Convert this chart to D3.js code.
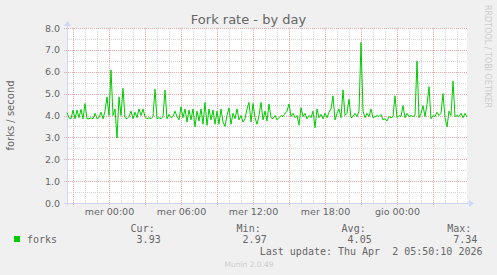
<!DOCTYPE html>
<html>
<head>
<meta charset="utf-8">
<script src="https://cdn.jsdelivr.net/npm/d3@7"></script>
<style>
  body { margin: 0; background: #f0f0f0; }
  svg { display: block; }
  text { font-family: "DejaVu Sans", sans-serif; fill: #666; }
  .mono { font-family: "DejaVu Sans Mono", monospace; }
</style>
</head>
<body>
<svg id="chart"></svg>
<script>
// series: forks per second, one sample every 10 minutes
const startTime = Date.UTC(2026, 2, 31, 20, 30);
const stepMinutes = 10;
const forks = [
  4.13, 3.90, 3.85, 4.25, 3.85, 4.25, 3.90, 4.28, 3.85, 4.55,
  3.85, 3.85, 3.90, 3.85, 4.10, 3.85, 3.90, 4.15, 3.85, 4.20,
  4.85, 4.00, 6.08, 4.00, 4.30, 2.97, 4.85, 4.00, 5.24, 3.90,
  3.85, 3.95, 4.20, 3.85, 4.15, 3.90, 4.30, 4.00, 4.30, 3.95,
  3.85, 3.90, 3.85, 3.95, 5.20, 3.85, 3.90, 3.85, 3.95, 5.16,
  3.85, 4.05, 3.90, 3.95, 4.20, 3.95, 3.80, 4.40, 3.90, 4.30,
  3.70, 4.25, 3.80, 4.30, 3.48, 4.20, 3.75, 4.30, 3.60, 4.60,
  3.55, 4.30, 3.80, 4.25, 3.60, 4.20, 3.60, 4.30, 3.70, 3.50,
  4.00, 4.35, 3.60, 4.10, 3.85, 4.30, 3.80, 4.00, 3.70, 3.85,
  4.30, 4.60, 3.70, 4.55, 3.90, 3.60, 4.00, 4.60, 3.80, 4.20,
  3.75, 4.53, 3.90, 3.85, 4.00, 3.80, 3.90, 4.00, 3.95, 4.10,
  4.20, 4.53, 3.95, 4.10, 3.90, 4.00, 3.56, 4.36, 3.95, 4.10,
  3.85, 4.00, 3.90, 4.20, 3.44, 4.30, 3.90, 4.05, 3.85, 4.10,
  3.90, 4.15, 4.30, 4.90, 3.80, 4.10, 4.30, 3.90, 5.17, 4.00,
  4.10, 4.75, 3.90, 3.95, 4.10, 3.95, 4.20, 7.34, 4.20, 3.90,
  4.10, 3.95, 4.30, 3.90, 3.95, 4.00, 3.95, 4.05, 3.80, 3.85,
  3.75, 3.95, 3.90, 3.95, 4.90, 3.90, 4.00, 3.95, 4.45, 3.90,
  4.10, 3.95, 4.00, 3.95, 4.00, 6.49, 3.90, 4.10, 4.45, 3.95,
  4.50, 5.32, 3.85, 4.00, 3.95, 4.15, 4.00, 4.10, 5.00, 3.90,
  3.48, 4.20, 4.00, 5.58, 3.95, 4.00, 3.95, 4.10, 3.90, 4.10,
  3.93
];
const yTicks = [0, 1, 2, 3, 4, 5, 6, 7, 8];
const legendHeads = ["Cur:", "Min:", "Avg:", "Max:"];
const legendValues = ["3.93", "2.97", "4.05", "7.34"];
const dayNames = ["dom", "lun", "mar", "mer", "gio", "ven", "sab"];

const W = 497, H = 275;
const plot = {left: 67, right: 467, top: 28, bottom: 203};

const data = forks.map((v, i) => ({t: new Date(startTime + i * stepMinutes * 60000), v: v}));
const endTime = new Date(startTime + (forks.length - 1) * stepMinutes * 60000);

const svg = d3.select("#chart").attr("width", W).attr("height", H);

const x = d3.scaleUtc().domain([new Date(startTime), endTime]).range([plot.left, plot.right]);
const y = d3.scaleLinear().domain([0, 8]).range([plot.bottom, plot.top]);

// canvas
svg.append("rect")
    .attr("x", plot.left).attr("y", plot.top)
    .attr("width", plot.right - plot.left).attr("height", plot.bottom - plot.top)
    .attr("fill", "#fff");

const grid = svg.append("g").attr("shape-rendering", "crispEdges");
const minorColor = "#d4d4d4", majorColor = "#e8a8a8";

// minor grid
const hourTicks = x.ticks(d3.utcHour.every(1)).filter(d => d.getUTCHours() % 3 !== 0);
grid.selectAll(".vmin").data(hourTicks).join("line")
    .attr("x1", d => Math.round(x(d)) + 0.5).attr("x2", d => Math.round(x(d)) + 0.5)
    .attr("y1", plot.top).attr("y2", plot.bottom)
    .attr("stroke", minorColor).attr("stroke-dasharray", "1,1");
const halfTicks = d3.range(0.5, 8, 1);
grid.selectAll(".hmin").data(halfTicks).join("line")
    .attr("x1", plot.left).attr("x2", plot.right)
    .attr("y1", d => Math.round(y(d)) + 0.5).attr("y2", d => Math.round(y(d)) + 0.5)
    .attr("stroke", minorColor).attr("stroke-dasharray", "1,1");

// major grid
const majorTicks = x.ticks(d3.utcHour.every(3));
grid.selectAll(".vmaj").data(majorTicks).join("line")
    .attr("x1", d => Math.round(x(d)) + 0.5).attr("x2", d => Math.round(x(d)) + 0.5)
    .attr("y1", plot.top).attr("y2", plot.bottom + 3)
    .attr("stroke", majorColor).attr("stroke-dasharray", "1,1");
grid.selectAll(".hmaj").data(yTicks).join("line")
    .attr("x1", plot.left - 3).attr("x2", plot.right)
    .attr("y1", d => Math.round(y(d)) + 0.5).attr("y2", d => Math.round(y(d)) + 0.5)
    .attr("stroke", majorColor).attr("stroke-dasharray", "1,1");

// y labels
svg.append("g")
    .attr("transform", `translate(${plot.left},0)`)
    .call(d3.axisLeft(y).tickValues(yTicks).tickFormat(d3.format(".1f")).tickSize(0).tickPadding(7))
    .call(g => g.select(".domain").remove())
    .call(g => g.selectAll("text").attr("fill", "#666").style("font-size", "9.5px").style("font-family", "DejaVu Sans"));

// x labels
const labelTicks = x.ticks(d3.utcHour.every(6));
svg.append("g")
    .attr("transform", `translate(0,${plot.bottom})`)
    .call(d3.axisBottom(x).tickValues(labelTicks)
        .tickFormat(d => dayNames[d.getUTCDay()] + " " + d3.utcFormat("%H:%M")(d))
        .tickSize(0).tickPadding(5))
    .call(g => g.select(".domain").remove())
    .call(g => g.selectAll("text").attr("fill", "#666").style("font-size", "9.5px").style("font-family", "DejaVu Sans"));

// axes and arrows
const axisColor = "#cfd6f8";
svg.append("line").attr("x1", plot.left - 3).attr("x2", plot.right + 3)
    .attr("y1", plot.bottom + 0.5).attr("y2", plot.bottom + 0.5)
    .attr("stroke", axisColor).attr("shape-rendering", "crispEdges");
svg.append("line").attr("x1", plot.left + 0.5).attr("x2", plot.left + 0.5)
    .attr("y1", plot.bottom + 3).attr("y2", plot.top - 3)
    .attr("stroke", axisColor).attr("shape-rendering", "crispEdges");
svg.append("path")
    .attr("d", `M${plot.right + 2},${plot.bottom - 3} L${plot.right + 7},${plot.bottom + 0.5} L${plot.right + 2},${plot.bottom + 4} Z`)
    .attr("fill", axisColor);
svg.append("path")
    .attr("d", `M${plot.left - 3},${plot.top - 2} L${plot.left + 0.5},${plot.top - 7} L${plot.left + 4},${plot.top - 2} Z`)
    .attr("fill", axisColor);

// series line
const line = d3.line().x(d => x(d.t)).y(d => y(d.v));
svg.append("path")
    .datum(data)
    .attr("d", line)
    .attr("fill", "none")
    .attr("stroke", "#00cc00")
    .attr("stroke-width", 1);

// title and labels
svg.append("text").attr("x", W / 2).attr("y", 24).attr("text-anchor", "middle")
    .style("font-size", "13px").text("Fork rate - by day");
svg.append("text").attr("transform", `translate(14,${(plot.top + plot.bottom) / 2}) rotate(-90)`)
    .attr("text-anchor", "middle").style("font-size", "10px").text("forks / second");
svg.append("text").attr("transform", `translate(485,5) rotate(90)`)
    .style("fill", "#cccccc").style("font-size", "8px").text("RRDTOOL / TOBI OETIKER");

// legend
svg.append("rect").attr("x", 14).attr("y", 236).attr("width", 6).attr("height", 6).attr("fill", "#00cc00");
svg.append("text").attr("class", "mono").attr("x", 27).attr("y", 243).style("font-size", "10px").text("forks");
const colEnds = [160.7, 266.7, 371.7, 477.3];
svg.selectAll(".lh").data(legendHeads).join("text")
    .attr("class", "mono").attr("x", (d, i) => colEnds[i] - 6).attr("y", 232)
    .attr("text-anchor", "end").style("font-size", "10px").text(d => d);
svg.selectAll(".lv").data(legendValues).join("text")
    .attr("class", "mono").attr("x", (d, i) => colEnds[i]).attr("y", 243)
    .attr("text-anchor", "end").style("font-size", "10px").text(d => d);
svg.append("text").attr("class", "mono").attr("x", 482.5).attr("y", 255)
    .attr("text-anchor", "end").style("white-space", "pre")
    .attr("xml:space", "preserve").style("font-size", "10px").text("Last update: Thu Apr  2 05:50:10 2026");
svg.append("text").attr("x", 249).attr("y", 267).attr("text-anchor", "middle")
    .style("fill", "#cccccc").style("font-size", "7.5px").text("Munin 2.0.49");
</script>
</body>
</html>
